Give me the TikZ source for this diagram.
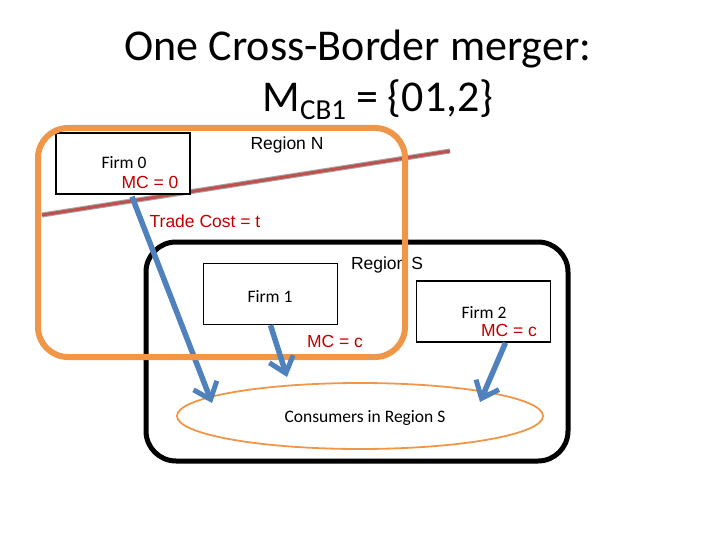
\documentclass[tikz,border=0pt]{standalone}
\usepackage{fontspec}
\setmainfont{Carlito}
\newfontfamily\arialf{Liberation Sans}
\usetikzlibrary{arrows.meta,shapes.geometric}
\definecolor{orng}{RGB}{240,150,72}
\definecolor{bluea}{RGB}{79,129,189}
\definecolor{redl}{RGB}{192,80,77}
\definecolor{redt}{RGB}{192,0,0}
\tikzset{
  firmbox/.style={draw=black,line width=1.5pt,minimum width=134pt,minimum height=61pt,inner sep=0pt},
  cal/.style={font=\fontsize{17.5}{19}\selectfont,inner sep=0pt},
  ari/.style={font=\arialf\fontsize{17.5}{19}\selectfont,inner sep=0pt},
  redtxt/.style={ari,text=redt},
  ttl/.style={font=\fontsize{44}{48}\selectfont,inner sep=0pt,anchor=base},
  flow/.style={draw=bluea,line width=5.5pt,-{Straight Barb[length=15pt,width=25pt,line width=5pt]}},
}
\begin{document}
\begin{tikzpicture}[x=1pt,y=-1pt]
\useasboundingbox (0,0) rectangle (720,540);
% titles
\node[ttl] (title1) at (358,61) {One Cross-Border merger:};
\node[ttl] (title2) at (378,112) {M\raisebox{-8pt}{\fontsize{29}{30}\selectfont CB1} = \{01,2\}};
% region S
\node[draw=black,line width=5pt,rounded corners=30pt,minimum width=422pt,minimum height=219pt,inner sep=0pt] (regS) at (357,351.5) {};
\node[ari,anchor=base] (regSlab) at (387,269) {Region S};
% trade line
\coordinate (tl1) at (42,215);
\coordinate (tl2) at (450,151);
\draw[draw=gray!70,line width=5pt] (tl1) -- (tl2);
\draw[draw=redl,line width=3pt] (tl1) -- (tl2);
% Firm boxes
\node[firmbox,fill=white] (f0) at (123,163.5) {};
\node[cal,anchor=base] (f0t) at (124,169) {Firm 0};
\node[redtxt,anchor=base] (f0mc) at (150,189) {MC = 0};
\node[ari,anchor=base] (regNlab) at (287,150) {Region N};
\node[redtxt,anchor=base] (tc) at (205,228) {Trade Cost = t};
\node[firmbox] (f1) at (270.5,294) {};
\node[cal,anchor=base] (f1t) at (270,302) {Firm 1};
\node[redtxt,anchor=base] (f1mc) at (335,347) {MC = c};
\node[firmbox] (f2) at (483.5,311.5) {};
\node[cal,anchor=base] (f2t) at (484,318) {Firm 2};
\node[redtxt,anchor=base] (f2mc) at (509,336) {MC = c};
% consumers
\node[draw=orng,line width=1.8pt,ellipse,minimum width=366pt,minimum height=66pt,inner sep=0pt] (cons) at (360,416) {};
\node[cal,anchor=base] (const) at (365,422) {Consumers in Region S};
% arrows
\coordinate (a0e) at (212,403);
\coordinate (a1e) at (287,377);
\coordinate (a2e) at (480,402);
\draw[flow] (f0.south) ++(9,2) coordinate (a0s) -- (a0e);
% merger region
\node[draw=orng,line width=6pt,rounded corners=30pt,minimum width=367pt,minimum height=229pt,inner sep=0pt] (merge) at (221.5,242.5) {};
\draw[flow] (f1.south) ++(0,0) coordinate (a1s) -- (a1e);
\draw[flow] (f2.south) ++(22,0) coordinate (a2s) -- (a2e);
\end{tikzpicture}
\end{document}
